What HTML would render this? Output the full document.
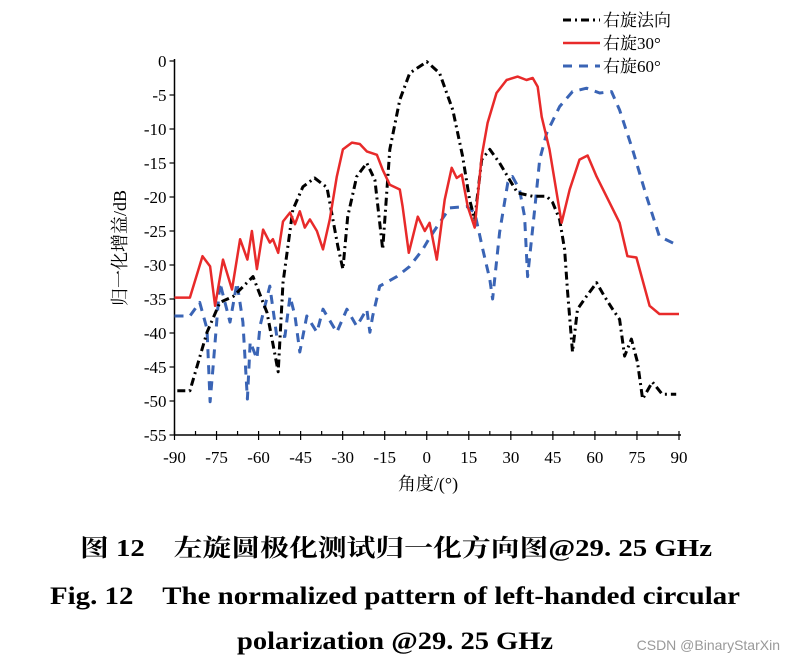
<!DOCTYPE html>
<html><head><meta charset="utf-8"><style>
body{margin:0;background:#fff;width:794px;height:665px;overflow:hidden;}
svg text{font-family:"Liberation Serif","Noto Serif CJK SC",serif;}
</style></head><body>
<svg width="794" height="665" viewBox="0 0 794 665">
<g id="axes"></g>
<g id="series"></g>
<g>
<line x1="563" y1="20" x2="600" y2="20" stroke="#000" stroke-width="3" stroke-dasharray="8,4,2,4"/>
<text x="603" y="26" font-size="17">右旋法向</text>
<line x1="563" y1="43" x2="600" y2="43" stroke="#e82a2a" stroke-width="2.5"/>
<text x="603" y="49" font-size="17">右旋30°</text>
<line x1="563" y1="66" x2="600" y2="66" stroke="#3a64b5" stroke-width="3" stroke-dasharray="9,7"/>
<text x="603" y="72" font-size="17">右旋60°</text>
</g>
<text x="428" y="490" font-size="18" text-anchor="middle">角度/(°)</text>
<text transform="translate(126,248) rotate(-90)" font-size="18" text-anchor="middle">归一化增益/dB</text>
<text x="80" y="556" font-size="24" font-weight="bold" textLength="632" lengthAdjust="spacingAndGlyphs">图 12　左旋圆极化测试归一化方向图@29. 25 GHz</text>
<text x="50" y="604" font-size="25" font-weight="bold" textLength="690" lengthAdjust="spacingAndGlyphs">Fig. 12　The normalized pattern of left-handed circular</text>
<text x="237" y="649" font-size="25" font-weight="bold" textLength="316" lengthAdjust="spacingAndGlyphs">polarization @29. 25 GHz</text>
<text x="780" y="650" font-size="14" fill="#999" text-anchor="end" style="font-family:'Liberation Sans',sans-serif">CSDN @BinaryStarXin</text>
</svg>
<script>
const xTicks=[-90,-75,-60,-45,-30,-15,0,15,30,45,60,75,90];
const yTicks=[0,-5,-10,-15,-20,-25,-30,-35,-40,-45,-50,-55];
const normalX=[-89,-84.5,-78.4,-73.8,-69,-62,-57,-53,-51.3,-47.8,-44.2,-40,-35.6,-31.7,-29.9,-28.2,-25,-21.4,-18.5,-15.7,-13.2,-9.6,-6.1,0,4.6,9.3,12.8,15.3,17.1,19.6,22.5,26,29.6,32.4,37.8,42.8,44.9,47.4,49.2,50.2,52,53.8,57,60.6,63.4,66.3,68.8,70.6,73,75.2,77,80.5,84,89];
const normalY=[-48.5,-48.5,-39.9,-35.5,-34.6,-31.7,-37,-45.7,-32.6,-21.9,-18.5,-17.2,-18.6,-27.3,-30.6,-22.9,-17,-15,-17.5,-27.7,-13,-5.7,-1.8,-0.1,-1.8,-7.2,-14,-20.4,-23.3,-14.5,-13,-15,-17.5,-19.4,-19.9,-19.9,-20.8,-23.3,-27.7,-33.6,-42.8,-36.5,-34.6,-32.6,-34.6,-36.5,-38,-43.4,-40.9,-44.3,-49.7,-47.2,-49,-49];
const r30X=[-90,-84.5,-80,-77.3,-75.5,-72.7,-69.5,-66.6,-64,-62.4,-60.6,-58.4,-56,-54.9,-53,-51.3,-48.8,-47,-45.3,-43.5,-41.7,-39.2,-37,-34.6,-32.1,-29.9,-26.7,-23.9,-21.4,-17.8,-15.7,-13.2,-9.6,-8.6,-6.4,-3.2,-0.7,1,3.6,6.4,8.9,10.7,12.5,14.6,17.1,19.6,21.7,24.9,28.5,32.4,35.6,37.8,39.6,41,43.8,48.1,51,54.5,57.4,60.6,65.2,68.8,71.6,74.8,79.5,83,90];
const r30Y=[-34.8,-34.8,-28.7,-30.2,-36,-29.2,-33.6,-26.2,-29.2,-25,-30.6,-24.8,-26.7,-26.2,-28.2,-23.6,-22.3,-24,-22.1,-24.5,-23.3,-25,-27.7,-23.3,-17,-13,-12,-12.2,-13.3,-13.8,-16,-18.2,-18.9,-21.4,-28.2,-22.9,-25,-23.8,-29.2,-20.4,-15.7,-17.2,-16.7,-21.4,-24.5,-14,-9.1,-4.7,-2.8,-2.3,-2.8,-2.5,-3.8,-8.2,-13,-23.8,-18.9,-14.5,-13.9,-17,-20.8,-23.8,-28.7,-28.9,-36,-37.2,-37.2];
const r60X=[-90,-84.5,-81,-78.4,-77.3,-76.3,-73.8,-70.2,-67.7,-65.6,-64,-63,-60.6,-59.5,-56,-53.5,-50.6,-48.8,-47,-45.3,-42.8,-39.2,-37,-32.1,-28.5,-25,-21.4,-20.3,-19.3,-16.8,-10.7,-6.1,-1.4,1,4.6,8.2,14.3,17.1,20,22.5,23.5,26,28.9,30.6,33.1,34.9,36,38.5,40.3,42.8,47.4,52,57,61.7,65.9,68.8,73.4,78.4,83,89];
const r60Y=[-37.5,-37.5,-35.5,-39.4,-50.1,-45.3,-32.6,-38.4,-32.6,-38.4,-49.7,-41.3,-43.8,-39,-33.1,-40.5,-40.5,-34.6,-37.5,-42.8,-37.5,-39.9,-36.5,-39.9,-36.5,-39,-36.5,-39.9,-37.5,-33.1,-31.7,-30.2,-27.7,-26,-23.8,-21.6,-21.4,-22.3,-27.7,-32.1,-35,-25.2,-17.9,-17,-18.9,-22.9,-31.7,-21.8,-14.5,-10.6,-6.7,-4.5,-4,-4.7,-4.5,-7.2,-13,-19.9,-25.8,-27];
const NS='http://www.w3.org/2000/svg';
const X0=174.5,X1=679,Y0=61,Y1=435;
const sx=d=>X0+(d+90)/180*(X1-X0);
const sy=v=>Y0+(-v)/55*(Y1-Y0);
function mk(tag,attrs,parent){const e=document.createElementNS(NS,tag);for(const k in attrs)e.setAttribute(k,attrs[k]);parent.appendChild(e);return e;}
const ax=document.getElementById('axes');
let l=mk('line',{x1:X0,y1:Y0-2,x2:X0,y2:Y1,stroke:'#000','stroke-width':1.5},ax);


l=mk('line',{x1:X0,y1:Y1,x2:X1+2,y2:Y1,stroke:'#000','stroke-width':1.5},ax);


yTicks.forEach(v=>{
 const y=sy(v);
 const t=mk('line',{x1:X0-5,y1:y,x2:X0,y2:y,stroke:'#000','stroke-width':1.2},ax);
 
 
 const tx=mk('text',{x:X0-8,y:y+6,'font-size':17,'text-anchor':'end'},ax);
 
 
 tx.textContent=v;
});
for(let d=-90;d<=90;d+=7.5){
 const x=sx(d);const major=(d%15===0);
 const t=mk('line',{x1:x,y1:major?Y1+5:Y1,x2:x,y2:Y1-4,stroke:'#000','stroke-width':1.2},ax);
 
 
}
xTicks.forEach(d=>{
 const tx=mk('text',{x:sx(d),y:Y1+28,'font-size':17,'text-anchor':'middle'},ax);
 
 
 tx.textContent=d;
});
const sg=document.getElementById('series');
function path(xs,ys,attrs,name){
 const d=xs.map((x,i)=>(i?'L':'M')+sx(x).toFixed(1)+','+sy(ys[i]).toFixed(1)).join('');
 const p=mk('path',Object.assign({d:d,fill:'none','stroke-linejoin':'round'},attrs),sg);
 
 
}
path(r60X,r60Y,{stroke:'#3a64b5','stroke-width':3,'stroke-dasharray':'9,7'},'series-rhcp-60');
path(normalX,normalY,{stroke:'#000','stroke-width':3,'stroke-dasharray':'8,4,2,4'},'series-rhcp-normal');
path(r30X,r30Y,{stroke:'#e82a2a','stroke-width':2.5},'series-rhcp-30');
</script>
</body></html>
